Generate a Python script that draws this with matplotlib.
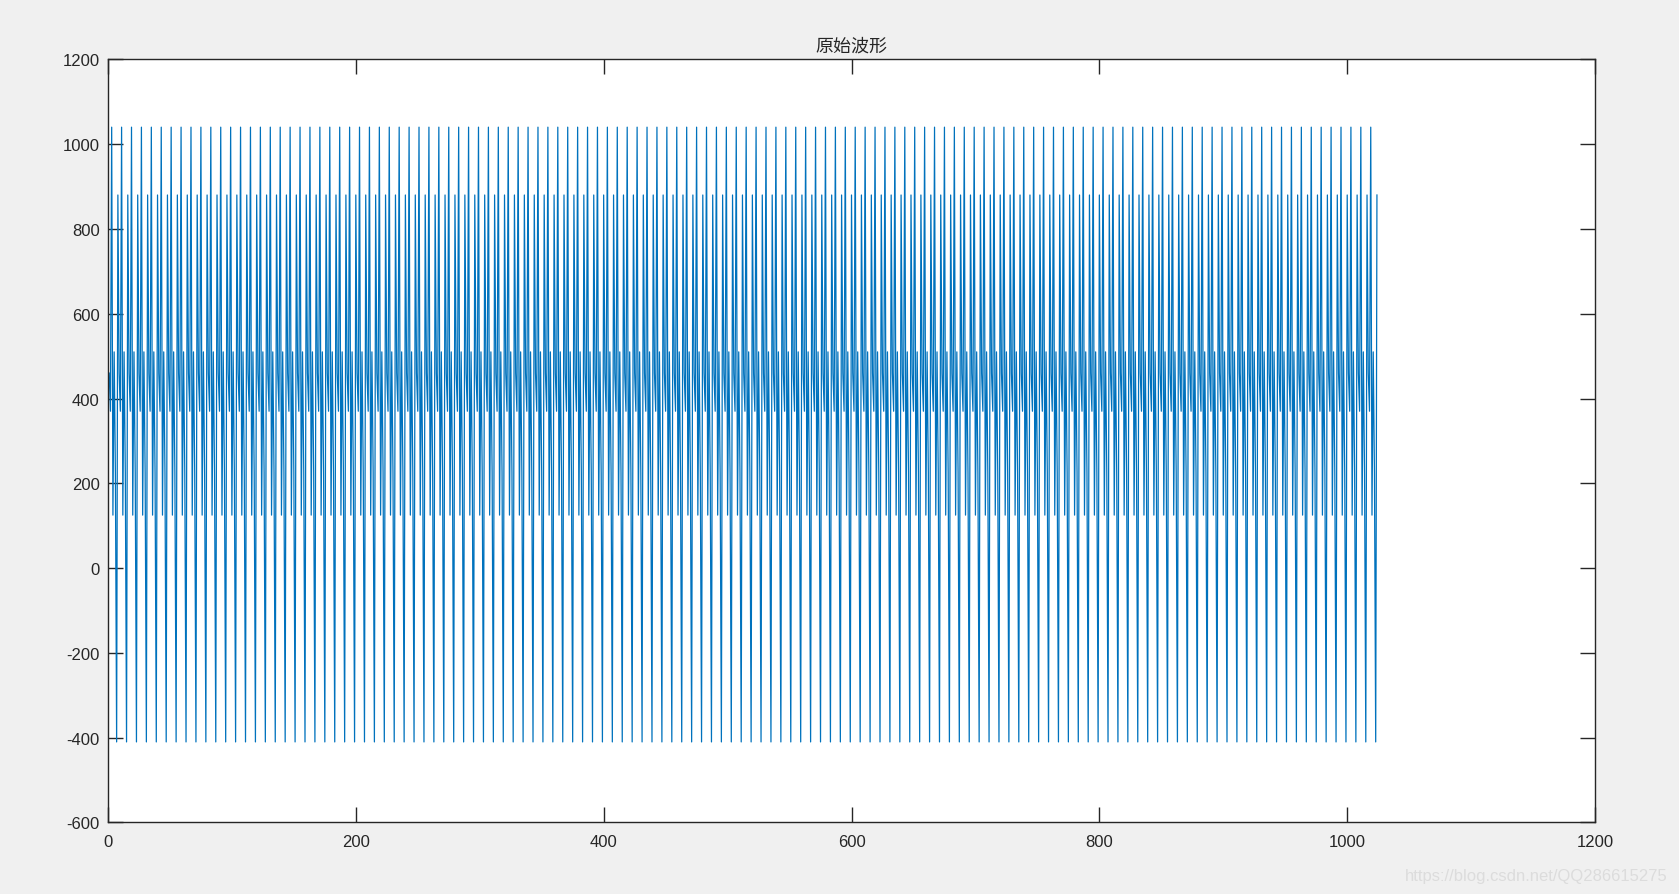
import numpy as np
import matplotlib
matplotlib.use("Agg")
import matplotlib.pyplot as plt

period = [460, 370, 1040, 125, 510, 225, -410, 880]
n_periods = 128  # 1024 samples in total

xticks = [0, 200, 400, 600, 800, 1000, 1200]
yticks = [-600, -400, -200, 0, 200, 400, 600, 800, 1000, 1200]
title = "原始波形"

wave = np.tile(period, n_periods)
samples = np.arange(1, len(wave) + 1)

plt.rcParams['font.family'] = ['Liberation Sans', 'DejaVu Sans']
plt.rcParams['axes.unicode_minus'] = False

fig = plt.figure(figsize=(16.79, 8.95), dpi=100, facecolor='#f0f0f0')
ax = fig.add_axes([0.0643, 0.0799, 0.8857, 0.8527])
ax.set_facecolor('white')

ax.plot(samples, wave, color='#0072BD', lw=0.9)

ax.set_xlim(0, 1200)
ax.set_ylim(-600, 1200)
ax.set_xticks(xticks)
ax.set_yticks(yticks)

for s in ax.spines.values():
    s.set_color('#262626')
    s.set_linewidth(1.0)
ax.tick_params(direction='in', length=11, width=1.0, color='#262626',
               labelsize=12, labelcolor='#262626',
               top=True, right=True)
ax.tick_params(axis='x', pad=8)
ax.tick_params(axis='y', pad=6)

ax.set_title(title, fontsize=13, color='#262626', pad=6,
             family=['Noto Sans CJK SC', 'DejaVu Sans'])

fig.text(0.9935, 0.012, "https://blog.csdn.net/QQ286615275", ha='right', va='bottom',
         fontsize=12, color='#dcdcdc')

fig.savefig('out.png', dpi=100, facecolor=fig.get_facecolor())
